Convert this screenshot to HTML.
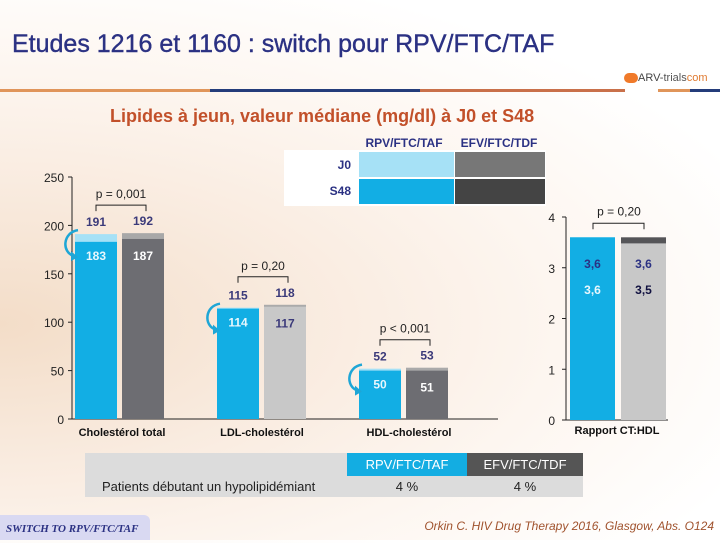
<!DOCTYPE html>
<html><head><meta charset="utf-8">
<style>
html,body{margin:0;padding:0}
body{width:720px;height:540px;overflow:hidden;position:relative;font-family:"Liberation Sans",sans-serif;
background:radial-gradient(ellipse at 0% 60%,#f3ddc8 0%,#f9ebdf 30%,#fdf6f0 55%,#ffffff 80%);}
.abs{position:absolute}
</style></head><body>
<div class="abs" style="left:12px;top:30px;font-size:25px;color:#2b3183;font-family:'Liberation Sans',sans-serif;white-space:nowrap;letter-spacing:0px;-webkit-text-stroke:0.4px #2b3183">Etudes 1216 et 1160 : switch pour RPV/FTC/TAF</div>
<div class="abs" style="left:0;top:89px;width:720px;height:4px">
 <div class="abs" style="left:0;top:0;width:210px;height:3px;background:#e0955a"></div>
 <div class="abs" style="left:210px;top:0;width:210px;height:3px;background:#243c7a"></div>
 <div class="abs" style="left:420px;top:0;width:205px;height:3px;background:#c9704a"></div>
 <div class="abs" style="left:658px;top:0;width:32px;height:3px;background:#e0955a"></div>
 <div class="abs" style="left:690px;top:0;width:30px;height:3px;background:#243c7a"></div>
</div>
<div class="abs" style="left:624px;top:72px;font-size:11px;color:#444;white-space:nowrap"><span style="display:inline-block;width:14px;height:10px;border-radius:5px;background:#f07a2a;vertical-align:middle"></span>ARV-<span style="color:#555">trials</span><span style="color:#e07a30">com</span></div>
<div class="abs" style="left:110px;top:106px;font-size:18px;font-weight:bold;color:#c2502a;font-family:'Liberation Sans',sans-serif;white-space:nowrap;letter-spacing:0px">Lipides à jeun, valeur médiane (mg/dl) à J0 et S48</div>

<svg class="abs" style="left:0;top:0" width="720" height="540" id="chart"></svg>

<div class="abs" style="left:85px;top:453px;width:498px;height:44px;background:#dcdcdc">
 <div class="abs" style="left:262px;top:0;width:120px;height:23px;background:#13ade2;color:#fff;font-size:13px;text-align:center;line-height:23px">RPV/FTC/TAF</div>
 <div class="abs" style="left:382px;top:0;width:116px;height:23px;background:#555555;color:#fff;font-size:13px;text-align:center;line-height:23px">EFV/FTC/TDF</div>
 <div class="abs" style="left:17px;top:26px;font-size:13px;color:#222;white-space:nowrap">Patients débutant un hypolipidémiant</div>
 <div class="abs" style="left:262px;top:26px;width:120px;font-size:13px;color:#222;text-align:center">4 %</div>
 <div class="abs" style="left:382px;top:26px;width:116px;font-size:13px;color:#222;text-align:center">4 %</div>
</div>

<div class="abs" style="left:0;top:515px;width:150px;height:25px;background:#d9d9f2;border-radius:0 6px 0 0;font-family:'Liberation Serif',serif;font-style:italic;font-weight:bold;font-size:11px;color:#2b3183;line-height:28px;text-indent:6px">SWITCH TO RPV/FTC/TAF</div>
<div class="abs" style="right:6px;top:519px;font-size:12px;font-style:italic;color:#a0522d;white-space:nowrap">Orkin C. HIV Drug Therapy 2016, Glasgow, Abs. O124</div>

<script>
const categories=["Cholestérol total","LDL-cholestérol","HDL-cholestérol"];
const rpvJ0=[191,115,52];
const rpvS48=[183,114,50];
const efvJ0=[192,118,53];
const efvS48=[187,117,51];
const pValues=["p = 0,001","p = 0,20","p < 0,001"];
const leftTicks=[0,50,100,150,200,250];
const ratioCategory=["Rapport CT:HDL"];
const ratioRpvJ0=[3.6], ratioRpvS48=[3.6], ratioEfvJ0=[3.6], ratioEfvS48=[3.5];
const ratioP=["p = 0,20"];
const rightTicks=[0,1,2,3,4];

const NS="http://www.w3.org/2000/svg";
const svg=document.getElementById('chart');
function mk(t,a,txt){const e=document.createElementNS(NS,t);for(const k in a)e.setAttribute(k,a[k]);if(txt!==undefined)e.textContent=txt;svg.appendChild(e);return e;}
const yL=v=>419-v*242/250;
const yR=v=>420-v*203/4;
const groupX=[75,217,359];
const efvMain=["#6d6d72","#c8c8c8","#6d6d72"];
const efvTop=["#a8a8a8","#ffffff","#ffffff"];
const efvS48Text=["#ffffff","#3b3a7a","#ffffff"];
const BW=42;

let ax=mk('line',{x1:72,y1:yL(250),x2:72,y2:419,stroke:'#222','stroke-width':1});

let bx=mk('line',{x1:72,y1:419,x2:498,y2:419,stroke:'#222','stroke-width':1});

leftTicks.forEach(t=>{
 let l=mk('line',{x1:68,y1:yL(t),x2:72,y2:yL(t),stroke:'#222'});
 
 let tx=mk('text',{x:64,y:yL(t)+5,'text-anchor':'end','font-size':12,fill:'#222'},t);
 
});
categories.forEach((c,i)=>{
 const x=groupX[i];
 let r1=mk('rect',{x:x,y:yL(rpvJ0[i]),width:BW,height:419-yL(rpvJ0[i]),fill:'#a6e1f6'});
 
 let r2=mk('rect',{x:x,y:yL(rpvS48[i]),width:BW,height:419-yL(rpvS48[i]),fill:'#12aee4'});
 
 const ex=x+BW+5;
 let e1=mk('rect',{x:ex,y:yL(efvJ0[i]),width:BW,height:419-yL(efvJ0[i]),fill:efvTop[i]==='#ffffff'?'#aaaaaa':efvTop[i]});
 
 let e2=mk('rect',{x:ex,y:yL(efvS48[i])+1,width:BW,height:419-yL(efvS48[i])-1,fill:efvMain[i]});
 
 let t1=mk('text',{x:x+BW/2,y:yL(rpvJ0[i])-8,'text-anchor':'middle','font-size':12,'font-weight':'bold',fill:'#3b3a7a'},rpvJ0[i]);
 
 let t2=mk('text',{x:x+BW/2,y:yL(rpvS48[i])+18,'text-anchor':'middle','font-size':12,'font-weight':'bold',fill:'#e8f7fd'},rpvS48[i]);
 
 let t3=mk('text',{x:ex+BW/2,y:yL(efvJ0[i])-8,'text-anchor':'middle','font-size':12,'font-weight':'bold',fill:'#3b3a7a'},efvJ0[i]);
 
 let t4=mk('text',{x:ex+BW/2,y:yL(efvS48[i])+22,'text-anchor':'middle','font-size':12,'font-weight':'bold',fill:efvS48Text[i]},efvS48[i]);
 
 const by=yL(Math.max(rpvJ0[i],efvJ0[i]))-28;
 let br=mk('path',{d:`M${x+21} ${by+6}V${by}H${ex+24}V${by+6}`,fill:'none',stroke:'#222'});
 
 let pt=mk('text',{x:(x+ex+45)/2,y:by-7,'text-anchor':'middle','font-size':12,fill:'#222'},pValues[i]);
 
 const ay=yL(rpvJ0[i]);
 let ar=mk('path',{d:`M${x+3} ${ay-4} C${x-12} ${ay-2},${x-14} ${ay+18},${x-1} ${ay+22}`,fill:'none',stroke:'#1ea6d6','stroke-width':2.5});
 
 let ah=mk('path',{d:`M${x+3} ${ay+23}l-7 -6l0 10z`,fill:'#1ea6d6'});
 
 let cl=mk('text',{x:x+(i==0?47:i==1?45:50),y:436,'text-anchor':'middle','font-size':11,'font-weight':'bold',fill:'#111'},c);
 
});

let ra=mk('line',{x1:566,y1:yR(4),x2:566,y2:420,stroke:'#222'});

let rb=mk('line',{x1:566,y1:420,x2:668,y2:420,stroke:'#222'});

rightTicks.forEach(t=>{
 let l=mk('line',{x1:562,y1:yR(t),x2:566,y2:yR(t),stroke:'#222'});
 
 let tx=mk('text',{x:555,y:yR(t)+5,'text-anchor':'end','font-size':12,fill:'#222'},t);
 
});
ratioCategory.forEach((c,i)=>{
 const x=570,ex=621,w=45;
 let a=mk('rect',{x:x,y:yR(ratioRpvJ0[i]),width:w,height:420-yR(ratioRpvJ0[i]),fill:'#a6e1f6'});
 
 let b=mk('rect',{x:x,y:yR(ratioRpvS48[i]),width:w,height:420-yR(ratioRpvS48[i]),fill:'#12aee4'});
 
 let d=mk('rect',{x:ex,y:yR(ratioEfvJ0[i]),width:w,height:420-yR(ratioEfvJ0[i]),fill:'#555558'});
 
 let e=mk('rect',{x:ex,y:yR(ratioEfvS48[i])+1,width:w,height:420-yR(ratioEfvS48[i])-1,fill:'#c8c8c8'});
 
 const f=v=>v.toFixed(1).replace('.',',');
 [[x,ratioRpvJ0[i],268,'#2b3183','ratio-value-rpv-j0'],[x,ratioRpvS48[i],294,'#e8f7fd','ratio-value-rpv-s48'],[ex,ratioEfvJ0[i],268,'#2b3183','ratio-value-efv-j0'],[ex,ratioEfvS48[i],294,'#111140','ratio-value-efv-s48']].forEach(q=>{
  let t=mk('text',{x:q[0]+w/2,y:q[2],'text-anchor':'middle','font-size':12,'font-weight':'bold',fill:q[3]},f(q[1]));
  
 });
 const by=yR(Math.max(ratioRpvJ0[i],ratioEfvJ0[i]))-14;
 let br=mk('path',{d:`M593 ${by+6}V${by}H644V${by+6}`,fill:'none',stroke:'#222'});
 
 let pt=mk('text',{x:619,y:by-8,'text-anchor':'middle','font-size':12,fill:'#222'},ratioP[i]);
 
 let cl=mk('text',{x:617,y:434,'text-anchor':'middle','font-size':11,'font-weight':'bold',fill:'#111'},c);
 
});

const legendRows=["J0","S48"];
const legendCols=["RPV/FTC/TAF","EFV/FTC/TDF"];
const legendColors=[["#a6e1f6","#777777"],["#12aee4","#444444"]];
let lbg=mk('rect',{x:284,y:150,width:262,height:56,fill:'#ffffff'});

legendCols.forEach((c,j)=>{
 let t=mk('text',{x:j==0?404:499,y:147,'text-anchor':'middle','font-size':12,'font-weight':'bold',fill:'#2b3183'},c);
 
});
legendRows.forEach((r,i)=>{
 let t=mk('text',{x:351,y:169+i*26,'text-anchor':'end','font-size':12,'font-weight':'bold',fill:'#2b3183'},r);
 
 legendColors[i].forEach((col,j)=>{
  let s=mk('rect',{x:j==0?359:455,y:152+i*27,width:j==0?95:90,height:25,fill:col});
  
 });
});
</script>
</body></html>
